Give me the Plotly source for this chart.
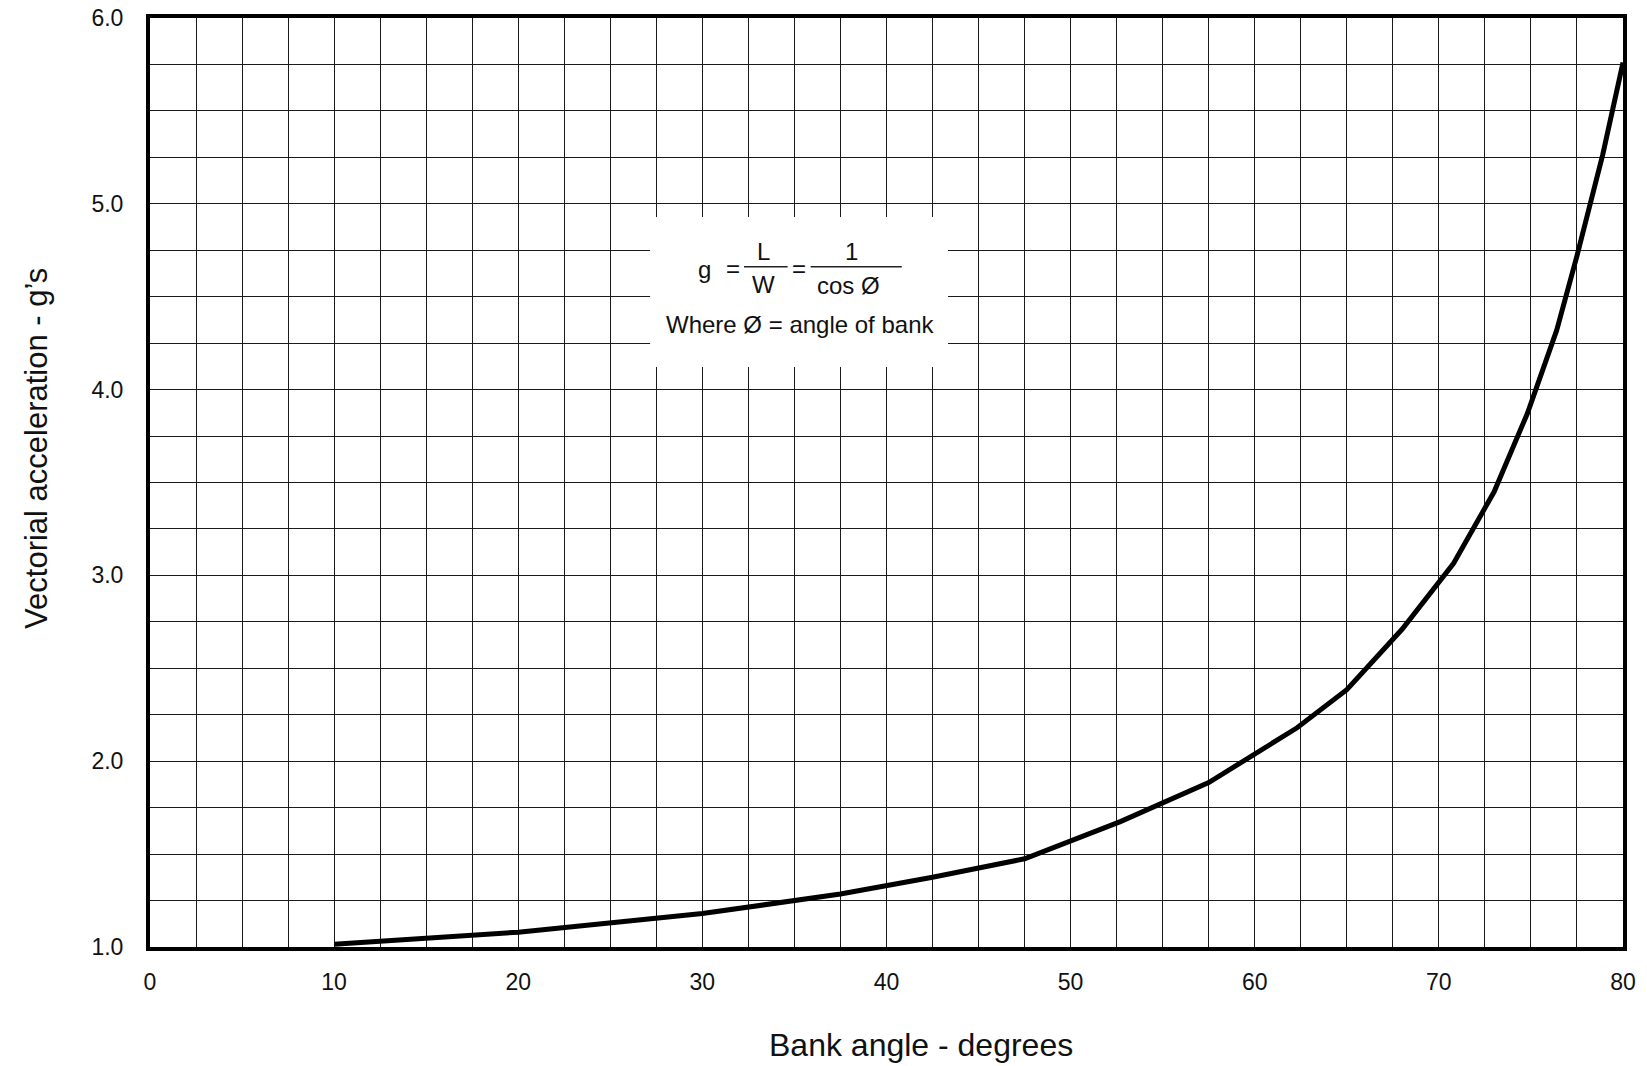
import plotly.graph_objects as go

# Data
bank_angle = [10, 20, 30, 37.5, 42.5, 47.5, 52.7, 57.5, 62.3, 65, 68, 70.8, 73, 74.8, 76.4, 77.5, 78.9, 80]
g_load = [1.015, 1.08, 1.18, 1.285, 1.375, 1.475, 1.675, 1.885, 2.18, 2.385, 2.71, 3.065, 3.45, 3.87, 4.32, 4.72, 5.265, 5.76]

x_ticks = [0, 10, 20, 30, 40, 50, 60, 70, 80]
y_ticks = [1.0, 2.0, 3.0, 4.0, 5.0, 6.0]
y_ticktext = ["1.0", "2.0", "3.0", "4.0", "5.0", "6.0"]

FONT = "Liberation Sans, Arial, sans-serif"

fig = go.Figure()
fig.add_trace(go.Scatter(x=bank_angle, y=g_load, mode="lines",
                         line=dict(color="black", width=5), hoverinfo="skip",
                         showlegend=False))

grid_col = "#1a1a1a"
fig.update_xaxes(range=[0, 80], tickvals=x_ticks, ticks="", ticklabelstandoff=11,
                 automargin=False,
                 showgrid=True, gridcolor=grid_col, gridwidth=1,
                 minor=dict(dtick=2.5, tick0=0, showgrid=True, gridcolor=grid_col, gridwidth=1),
                 showline=True, linecolor="black", linewidth=4, mirror=True,
                 zeroline=False, tickfont=dict(size=23, color="#111", family=FONT))
fig.update_yaxes(range=[1, 6], tickvals=y_ticks, ticktext=y_ticktext, ticks="",
                 ticklabelstandoff=18, automargin=False,
                 showgrid=True, gridcolor=grid_col, gridwidth=1,
                 minor=dict(dtick=0.25, tick0=0, showgrid=True, gridcolor=grid_col, gridwidth=1),
                 showline=True, linecolor="black", linewidth=4, mirror=True,
                 zeroline=False, tickfont=dict(size=23, color="#111", family=FONT))

# white box behind formula
fig.add_shape(type="rect", xref="x", yref="y", x0=27.16, x1=43.34, y0=4.122, y1=4.929,
              fillcolor="white", line=dict(width=0), layer="above")
# fraction bars
fig.add_shape(type="line", xref="x", yref="y", x0=32.26, x1=34.63, y0=4.661, y1=4.661,
              line=dict(color="#222", width=1.5), layer="above")
fig.add_shape(type="line", xref="x", yref="y", x0=35.88, x1=40.83, y0=4.661, y1=4.661,
              line=dict(color="#222", width=1.5), layer="above")

def txt(x, y, s, size=24):
    fig.add_annotation(x=x, y=y, xref="x", yref="y", text=s, showarrow=False,
                       font=dict(size=size, color="#111", family=FONT),
                       xanchor="center", yanchor="middle")

txt(30.14, 4.644, "g")
txt(31.68, 4.653, "=")
txt(33.31, 4.742, "L")
txt(33.31, 4.563, "W")
txt(35.25, 4.653, "=")
txt(38.11, 4.742, "1")
txt(37.93, 4.558, "cos Ø")
txt(35.30, 4.348, "Where Ø = angle of bank")

# axis titles
fig.add_annotation(x=0.5232, y=-0.1055, xref="paper", yref="paper",
                   text="Bank angle - degrees", showarrow=False,
                   font=dict(size=32, color="#111", family=FONT),
                   xanchor="center", yanchor="middle")
fig.add_annotation(x=-0.0771, y=0.5366, xref="paper", yref="paper",
                   text="Vectorial acceleration - g’s", showarrow=False, textangle=-90,
                   font=dict(size=31, color="#111", family=FONT),
                   xanchor="center", yanchor="middle")

fig.update_layout(width=1647, height=1066,
                  margin=dict(l=150, r=24, t=18, b=119),
                  plot_bgcolor="white", paper_bgcolor="white",
                  showlegend=False)

# remove the default 8px page margin so the figure fills the window exactly
fig.write_html("out.html", config={"displayModeBar": False},
               post_script="document.body.style.margin='0';document.body.style.overflow='hidden';")
